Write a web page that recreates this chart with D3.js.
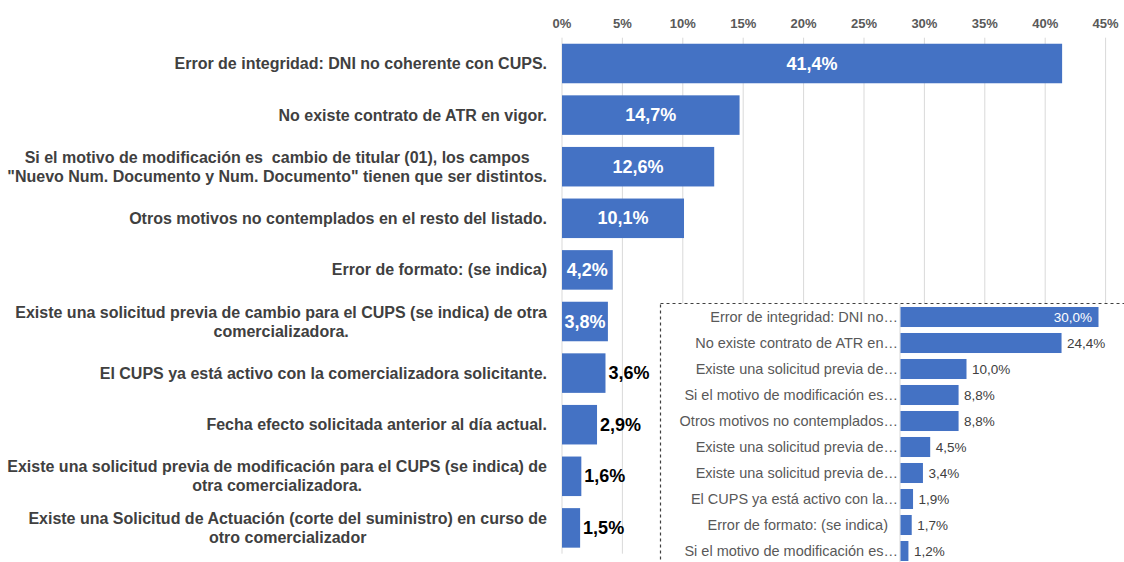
<!DOCTYPE html>
<html lang="es">
<head>
<meta charset="utf-8">
<title>Motivos de rechazo</title>
<script src="https://cdn.jsdelivr.net/npm/d3@7"></script>
<style>
  body { margin: 0; background: #fff; }
  svg { display: block; font-family: "Liberation Sans", Arial, sans-serif; }
</style>
</head>
<body>
<script>
// main chart data
const mainLabels = [
  ["Error de integridad: DNI no coherente con CUPS."],
  ["No existe contrato de ATR en vigor."],
  ["Si el motivo de modificación es  cambio de titular (01), los campos", "\"Nuevo Num. Documento y Num. Documento\" tienen que ser distintos."],
  ["Otros motivos no contemplados en el resto del listado."],
  ["Error de formato: (se indica)"],
  ["Existe una solicitud previa de cambio para el CUPS (se indica) de otra", "comercializadora."],
  ["El CUPS ya está activo con la comercializadora solicitante."],
  ["Fecha efecto solicitada anterior al día actual."],
  ["Existe una solicitud previa de modificación para el CUPS (se indica) de", "otra comercializadora."],
  ["Existe una Solicitud de Actuación (corte del suministro) en curso de", "otro comercializador"]
];
const mainValues = [41.4, 14.7, 12.6, 10.1, 4.2, 3.8, 3.6, 2.9, 1.6, 1.5];
const mainTicks = [0, 5, 10, 15, 20, 25, 30, 35, 40, 45];

// inset chart data
const insetLabels = [
  "Error de integridad: DNI no…",
  "No existe contrato de ATR en…",
  "Existe una solicitud previa de…",
  "Si el motivo de modificación es…",
  "Otros motivos no contemplados…",
  "Existe una solicitud previa de…",
  "Existe una solicitud previa de…",
  "El CUPS ya está activo con la…",
  "Error de formato: (se indica)",
  "Si el motivo de modificación es…"
];
const insetValues = [30.0, 24.4, 10.0, 8.8, 8.8, 4.5, 3.4, 1.9, 1.7, 1.2];

const W = 1124, H = 562;
const blue = "#4472C4";
const es = d3.formatLocale({decimal: ",", thousands: ".", grouping: [3], currency: ["", "€"]});
const pct = v => es.format(".1f")(v) + "%";

const svg = d3.select("body").append("svg")
  .attr("width", W).attr("height", H);

// ---- main chart ----
const x = d3.scaleLinear().domain([0, 45]).range([562, 1105.6]);
const y = d3.scaleBand().domain(d3.range(mainValues.length))
  .range([37.7, 553.7]).paddingInner(0.234).paddingOuter(0.117);

// gridlines
svg.append("g").selectAll("line").data(mainTicks).join("line")
  .attr("x1", d => x(d)).attr("x2", d => x(d))
  .attr("y1", 37.7).attr("y2", 553.7)
  .attr("stroke", "#d9d9d9").attr("stroke-width", 1);

// tick labels on top
svg.append("g").selectAll("text").data(mainTicks).join("text")
  .attr("x", d => x(d)).attr("y", 23)
  .attr("text-anchor", "middle").attr("dominant-baseline", "central")
  .attr("font-size", 13).attr("font-weight", "bold").attr("fill", "#595959")
  .text(d => d + "%");

svg.append("g").selectAll("rect").data(mainValues).join("rect")
  .attr("x", x(0)).attr("y", (d, i) => y(i))
  .attr("width", d => x(d) - x(0)).attr("height", y.bandwidth())
  .attr("fill", blue);

// category labels, multi-line centred on the block, block right aligned
const labelG = svg.append("g");
mainLabels.forEach((lines, i) => {
  const t = labelG.append("text")
    .attr("font-size", 16).attr("font-weight", "bold").attr("fill", "#404040")
    .attr("text-anchor", "middle");
  const spans = lines.map((ln, j) => t.append("tspan")
    .attr("y", y(i) + y.bandwidth() / 2 + (j - (lines.length - 1) / 2) * 19)
    .attr("dominant-baseline", "central")
    .attr("xml:space", "preserve")
    .text(ln));
  const widths = spans.map(s => s.node().getComputedTextLength());
  const maxW = d3.max(widths);
  spans.forEach(s => s.attr("x", 547 - maxW / 2));
});

// value labels
svg.append("g").selectAll("text").data(mainValues).join("text")
  .attr("x", d => d >= 3.7 ? (x(0) + x(d)) / 2 : x(d) + 3)
  .attr("y", (d, i) => y(i) + y.bandwidth() / 2)
  .attr("text-anchor", d => d >= 3.7 ? "middle" : "start")
  .attr("dominant-baseline", "central")
  .attr("font-size", 18).attr("font-weight", "bold")
  .attr("fill", d => d >= 3.7 ? "#fff" : "#000")
  .text(pct);

// ---- inset chart ----
const inset = svg.append("g");
inset.append("rect")
  .attr("x", 660.5).attr("y", 303.5).attr("width", 500).attr("height", 300)
  .attr("fill", "#fff").attr("stroke", "#404040")
  .attr("stroke-width", 1.2).attr("stroke-dasharray", "3,3");

const xi = d3.scaleLinear().domain([0, 30]).range([900, 1098]);
const yi = d3.scaleBand().domain(d3.range(insetValues.length))
  .range([304, 564]).paddingInner(0.23).paddingOuter(0.115);

inset.append("line")
  .attr("x1", xi(0)).attr("x2", xi(0)).attr("y1", 304).attr("y2", H)
  .attr("stroke", "#d9d9d9");

inset.append("g").selectAll("rect").data(insetValues).join("rect")
  .attr("x", xi(0) + 0.5).attr("y", (d, i) => yi(i))
  .attr("width", d => xi(d) - xi(0)).attr("height", yi.bandwidth())
  .attr("fill", blue);

inset.append("g").selectAll("text").data(insetLabels).join("text")
  .attr("x", d => d.endsWith("…") ? 898 : 888)
  .attr("y", (d, i) => yi(i) + yi.bandwidth() / 2)
  .attr("text-anchor", "end").attr("dominant-baseline", "central")
  .attr("font-size", 14.5).attr("fill", "#595959")
  .text(d => d);

inset.append("g").selectAll("text").data(insetValues).join("text")
  .attr("x", (d, i) => i === 0 ? xi(d) - 6 : xi(d) + 6)
  .attr("y", (d, i) => yi(i) + yi.bandwidth() / 2)
  .attr("text-anchor", (d, i) => i === 0 ? "end" : "start")
  .attr("dominant-baseline", "central")
  .attr("font-size", 13.5)
  .attr("fill", (d, i) => i === 0 ? "#fff" : "#404040")
  .text(pct);
</script>
</body>
</html>
